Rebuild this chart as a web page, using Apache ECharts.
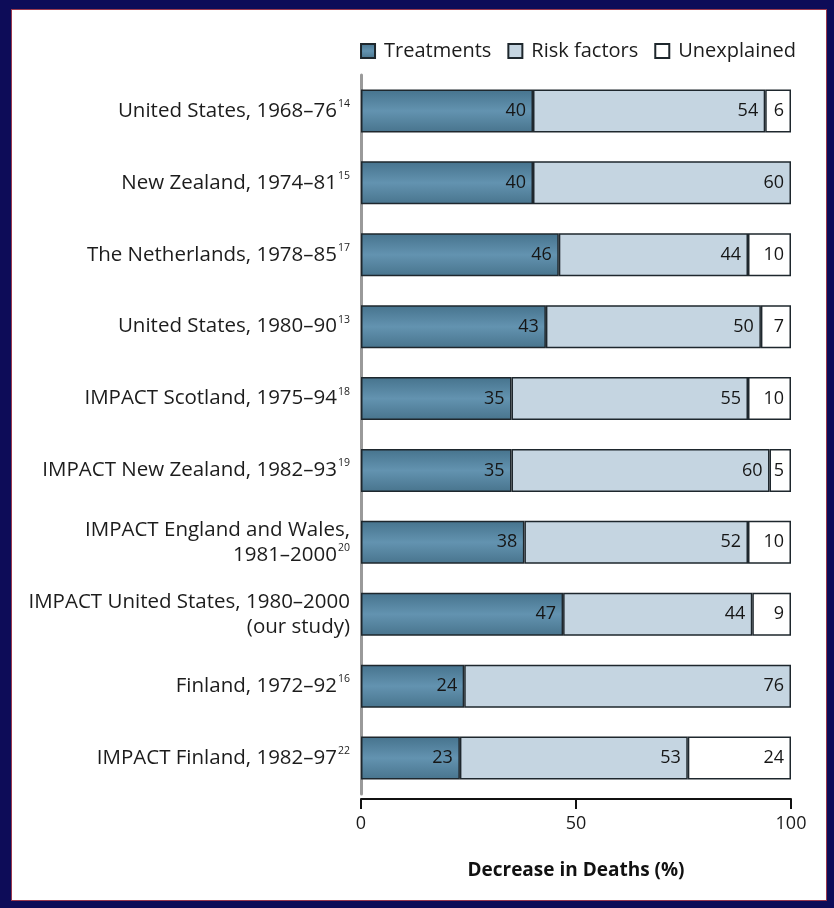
<!DOCTYPE html>
<html>
<head>
<meta charset="utf-8">
<script src="https://cdn.jsdelivr.net/npm/echarts@6/dist/echarts.min.js"></script>
<style>
  html, body { margin: 0; padding: 0; background: #fff; }
  #chart { position: absolute; left: 0; top: 0; width: 834px; height: 908px; }
  /* dark frame around the figure */
  .frame {
    position: absolute; left: 0; top: 0; width: 834px; height: 908px;
    box-sizing: border-box; pointer-events: none;
    border-style: solid; border-color: #0d0c58;
    border-width: 9px 7px 7px 11px;
    box-shadow: inset 0 0 0 1px #9a3a4e;
  }
</style>
</head>
<body>
<div id="chart"></div>
<div class="frame"></div>
<script>
  // categories (top to bottom), with reference superscripts
  const studies = [
    'United States, 1968\u201376',
    'New Zealand, 1974\u201381',
    'The Netherlands, 1978\u201385',
    'United States, 1980\u201390',
    'IMPACT Scotland, 1975\u201394',
    'IMPACT New Zealand, 1982\u201393',
    'IMPACT England and Wales,\n1981\u20132000',
    'IMPACT United States, 1980\u20132000\n(our study)',
    'Finland, 1972\u201392',
    'IMPACT Finland, 1982\u201397'
  ];
  const refs = ['14', '15', '17', '13', '18', '19', '20', '', '16', '22'];

  const treatments  = [40, 40, 46, 43, 35, 35, 38, 47, 24, 23];
  const riskFactors = [54, 60, 44, 50, 55, 60, 52, 44, 76, 53];
  const unexplained = [6, 0, 10, 7, 10, 5, 10, 9, 0, 24];

  const xTicks = [0, 50, 100];

  const font = '"Open Sans", Lato, sans-serif';
  const border = '#1e272d';

  function catLabel(v, i) {
    const lines = v.split('\n');
    const out = lines.map(function (l) { return '{a|' + l + '}'; });
    if (refs[i]) {
      out[out.length - 1] += '{s|' + refs[i] + '}';
    }
    return out.join('\n');
  }

  function barLabel(dist) {
    return {
      show: true,
      position: 'insideRight',
      distance: dist,
      color: '#161616',
      fontFamily: font,
      fontSize: 18,
      formatter: function (p) { return p.value ? p.value : ''; }
    };
  }

  const chart = echarts.init(document.getElementById('chart'));
  const option = {
    backgroundColor: '#fff',
    animation: false,
    legend: {
      top: 36,
      right: 33,
      itemWidth: 14,
      itemHeight: 14,
      itemGap: 16,
      icon: 'rect',
      textStyle: { fontFamily: font, fontSize: 20, color: '#1c1c1c', padding: [0, 0, 0, 4] },
      data: ['Treatments', 'Risk factors', 'Unexplained']
    },
    grid: {
      left: 361,
      right: 43,
      top: 75,
      bottom: 114
    },
    xAxis: {
      type: 'value',
      min: xTicks[0],
      max: xTicks[xTicks.length - 1],
      interval: 50,
      offset: 5,
      splitLine: { show: false },
      axisLine: { show: true, lineStyle: { color: '#111', width: 2 } },
      axisTick: { show: true, length: 10, lineStyle: { color: '#111', width: 2 } },
      axisLabel: { margin: 16, color: '#1a1a1a', fontFamily: font, fontSize: 18 },
      name: 'Decrease in Deaths (%)',
      nameLocation: 'middle',
      nameGap: 62,
      nameTextStyle: { fontFamily: font, fontSize: 19, fontWeight: 'bold', color: '#111' }
    },
    yAxis: {
      type: 'category',
      inverse: true,
      data: studies,
      axisLine: { show: true, lineStyle: { color: '#9a9a9a', width: 3 } },
      axisTick: { show: false },
      axisLabel: {
        margin: 11,
        align: 'right',
        formatter: catLabel,
        rich: {
          a: { fontFamily: font, fontSize: 20.5, color: '#1c1c1c', lineHeight: 25 },
          s: { fontFamily: font, fontSize: 10.5, color: '#1c1c1c', padding: [0, 0, 14, 1] }
        }
      }
    },
    series: [
      {
        name: 'Treatments',
        type: 'bar',
        stack: 'total',
        barWidth: 43,
        data: treatments,
        label: barLabel(7),
        itemStyle: {
          color: new echarts.graphic.LinearGradient(0, 0, 0, 1, [
            { offset: 0, color: '#46738d' },
            { offset: 0.5, color: '#6393b0' },
            { offset: 1, color: '#48748d' }
          ]),
          borderColor: border,
          borderWidth: 1.5
        }
      },
      {
        name: 'Risk factors',
        type: 'bar',
        stack: 'total',
        data: riskFactors,
        label: barLabel(7),
        itemStyle: { color: '#c5d5e1', borderColor: border, borderWidth: 1.5 }
      },
      {
        name: 'Unexplained',
        type: 'bar',
        stack: 'total',
        data: unexplained.map(function (v) { return v === 0 ? '-' : v; }),
        label: barLabel(7),
        itemStyle: { color: '#ffffff', borderColor: border, borderWidth: 1.5 }
      }
    ]
  };
  chart.setOption(option);
</script>
</body>
</html>
